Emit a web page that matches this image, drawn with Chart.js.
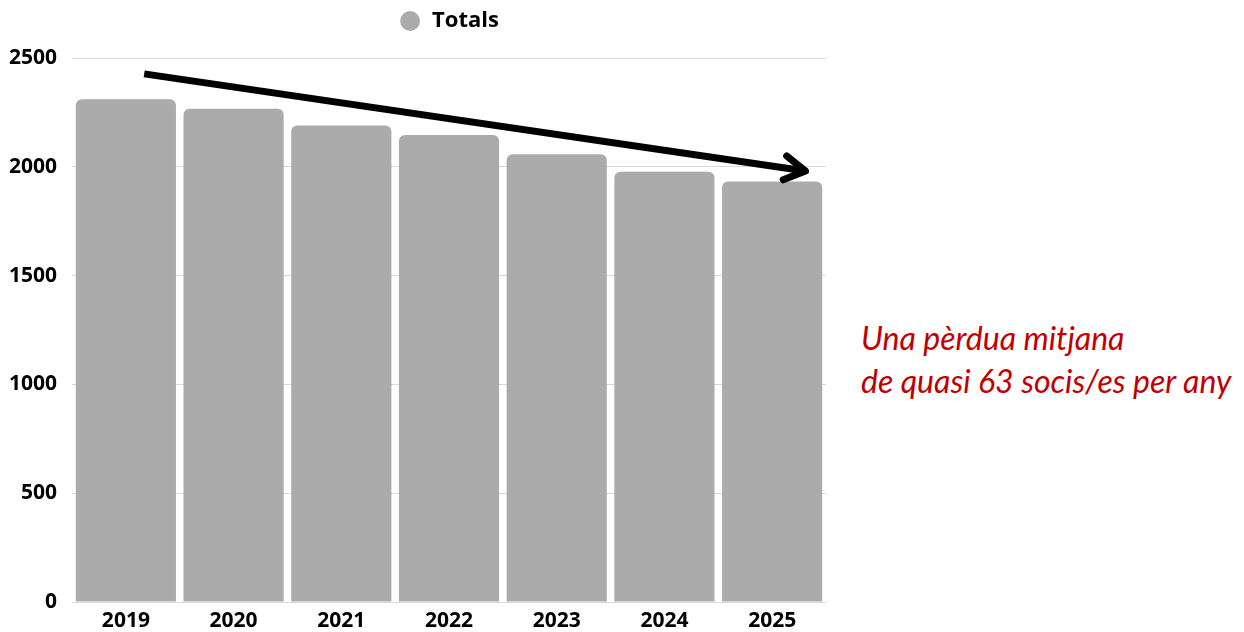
<!DOCTYPE html>
<html>
<head>
<meta charset="utf-8">
<script src="https://cdn.jsdelivr.net/npm/chart.js@4"></script>
<style>
  html, body { margin: 0; padding: 0; background: #fff; }
  #wrap { position: relative; width: 1244px; height: 632px; overflow: hidden; }
  #box { position: absolute; left: -12px; top: 0; width: 852px; height: 641px; }
  #note {
    position: absolute; left: 861px; top: 316px;
    font-family: Lato, sans-serif; font-style: italic; font-size: 32px;
    line-height: 43px; color: #c00000; white-space: nowrap;
  }
</style>
</head>
<body>
<div id="wrap">
  <div id="box"><canvas id="chart"></canvas></div>
  <div id="note">Una pèrdua mitjana<br>de quasi 63 socis/es per any</div>
</div>
<script>
// ── DATA ────────────────────────────────────────────────────────────────────
const years = ['2019', '2020', '2021', '2022', '2023', '2024', '2025'];
const totals = [2310, 2267, 2190, 2146, 2058, 1977, 1933];
const yTicks = [0, 500, 1000, 1500, 2000, 2500];
// trend arrow, in [category index, value]
const arrowFrom = [0.17, 2427];
const arrowTo = [6.31, 1981];

const tickFont = { family: "'Open Sans', sans-serif", size: 21, weight: 'bold', lineHeight: 1 };

// draws the trend arrow on top of the bars
const trendArrow = {
  id: 'trendArrow',
  afterDatasetsDraw(chart) {
    const { ctx, scales: { x, y } } = chart;
    const x1 = x.getPixelForValue(arrowFrom[0]), y1 = y.getPixelForValue(arrowFrom[1]);
    const x2 = x.getPixelForValue(arrowTo[0]), y2 = y.getPixelForValue(arrowTo[1]);
    const ang = Math.atan2(y2 - y1, x2 - x1);
    const len = 24, spread = Math.PI / 6;
    ctx.save();
    ctx.strokeStyle = '#000';
    ctx.lineWidth = 7;
    ctx.lineCap = 'butt';
    ctx.beginPath();
    ctx.moveTo(x1, y1);
    ctx.lineTo(x2, y2);
    ctx.stroke();
    ctx.lineCap = 'round';
    ctx.lineJoin = 'round';
    ctx.beginPath();
    ctx.moveTo(x2 - len * Math.cos(ang - spread), y2 - len * Math.sin(ang - spread));
    ctx.lineTo(x2, y2);
    ctx.lineTo(x2 - len * Math.cos(ang + spread), y2 - len * Math.sin(ang + spread));
    ctx.stroke();
    ctx.restore();
  }
};

// extra room under the legend
const legendGap = {
  id: 'legendGap',
  beforeInit(chart) {
    const fit = chart.legend.fit;
    chart.legend.fit = function () {
      fit.bind(chart.legend)();
      this.height += 16;
    };
  }
};

new Chart(document.getElementById('chart').getContext('2d'), {
  type: 'bar',
  data: {
    labels: years,
    datasets: [{
      label: 'Totals',
      data: totals,
      backgroundColor: '#ababab',
      borderRadius: { topLeft: 6, topRight: 6 },
      borderSkipped: 'bottom',
      barPercentage: 0.93,
      categoryPercentage: 1
    }]
  },
  options: {
    responsive: true, maintainAspectRatio: false, animation: false,
    layout: { padding: { left: 6, right: 14, top: 0, bottom: 0 } },
    plugins: {
      legend: {
        position: 'top', fullSize: false,
        labels: {
          usePointStyle: true, pointStyle: 'circle', boxHeight: 14,
          color: '#000', padding: 10,
          font: { family: "'Open Sans', sans-serif", size: 22, weight: 'bold' }
        }
      },
      tooltip: { enabled: false }
    },
    scales: {
      x: {
        grid: { display: false, drawTicks: false },
        border: { display: false },
        ticks: { color: '#000', font: tickFont, padding: 9 }
      },
      y: {
        min: 0, max: 2500,
        afterBuildTicks: axis => { axis.ticks = yTicks.map(v => ({ value: v })); },
        grid: { color: '#d9d9d9', drawTicks: false },
        border: { display: false },
        ticks: { color: '#000', font: tickFont, padding: 15, callback: v => String(v) }
      }
    }
  },
  plugins: [trendArrow, legendGap]
});
</script>
</body>
</html>
